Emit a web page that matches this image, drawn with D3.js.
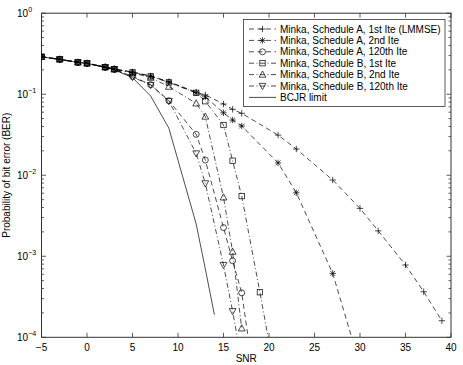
<!DOCTYPE html>
<html>
<head>
<meta charset="utf-8">
<script src="https://cdn.jsdelivr.net/npm/d3@7"></script>
<style>
  body { margin: 0; background: #fff; }
  text { font-family: "Liberation Sans", Arial, sans-serif; fill: #000; }
</style>
</head>
<body>
<div id="chart"></div>
<script>
// Define SVG area dimensions
const svgWidth = 463;
const svgHeight = 365;

// plot box (pixel edges of the axes)
const plot = { left: 41.5, right: 451, top: 13.2, bottom: 337.3 };

// ---- data ----
const snrA1 = [-5, -3, -1, 0, 2, 3, 5, 7, 9, 12, 13, 15, 16, 17, 21, 23, 27, 30, 32, 35, 37, 39];
const berA1 = [0.290, 0.270, 0.248, 0.241, 0.217, 0.205, 0.188, 0.168, 0.143, 0.106, 0.098, 0.0757, 0.0651, 0.0581, 0.0313, 0.0211, 0.00873, 0.0039, 0.00206, 7.8e-4, 3.65e-4, 1.6e-4];

const snrA2 = [-5, -3, -1, 0, 2, 3, 5, 7, 9, 12, 13, 15, 16, 17, 21, 23, 27, 30];
const berA2 = [0.290, 0.270, 0.248, 0.241, 0.216, 0.204, 0.187, 0.167, 0.141, 0.104, 0.093, 0.059, 0.048, 0.0405, 0.0142, 0.00608, 6.15e-4, 4.5e-5];

const snrA3 = [-5, -3, -1, 0, 2, 3, 5, 7, 9, 12, 13, 15, 16, 17, 19];
const berA3 = [0.289, 0.269, 0.247, 0.240, 0.215, 0.203, 0.166, 0.131, 0.083, 0.032, 0.0154, 0.00226, 8.8e-4, 3.54e-4, 1e-5];

const snrB1 = [-5, -3, -1, 0, 2, 3, 5, 7, 9, 12, 13, 15, 16, 17, 19, 21];
const berB1 = [0.290, 0.270, 0.248, 0.241, 0.216, 0.204, 0.186, 0.166, 0.140, 0.104, 0.082, 0.0417, 0.0151, 0.00553, 3.6e-4, 2.1e-5];

const snrB2 = [-5, -3, -1, 0, 2, 3, 5, 7, 9, 12, 13, 15, 16, 17];
const berB2 = [0.289, 0.269, 0.247, 0.240, 0.215, 0.203, 0.184, 0.160, 0.124, 0.077, 0.053, 0.00533, 0.00114, 1.29e-4];

const snrB3 = [-5, -3, -1, 0, 2, 3, 5, 7, 9, 12, 13, 15, 16, 17];
const berB3 = [0.289, 0.269, 0.247, 0.240, 0.215, 0.203, 0.163, 0.130, 0.0824, 0.0186, 0.00794, 7.8e-4, 2.1e-4, 5e-5];

const snrBcjr = [-5, -3, -1, 0, 2, 3, 5, 7, 9, 12, 13, 14];
const berBcjr = [0.289, 0.269, 0.247, 0.240, 0.214, 0.200, 0.160, 0.095, 0.038, 0.0025, 7e-4, 1.9e-4];

const legendLabels = [
  "Minka, Schedule A, 1st Ite (LMMSE)",
  "Minka, Schedule A, 2nd Ite",
  "Minka, Schedule A, 120th Ite",
  "Minka, Schedule B, 1st Ite",
  "Minka, Schedule B, 2nd Ite",
  "Minka, Schedule B, 120th Ite",
  "BCJR limit"
];
const xTicks = [-5, 0, 5, 10, 15, 20, 25, 30, 35, 40];
const yTicks = [1, 1e-1, 1e-2, 1e-3, 1e-4];
const yExponents = ["0", "\u22121", "\u22122", "\u22123", "\u22124"];

// series table built from the arrays above
const series = [
  { x: snrA1, y: berA1, marker: "plus", dash: "5,3.5" },
  { x: snrA2, y: berA2, marker: "star", dash: "5,3.5" },
  { x: snrA3, y: berA3, marker: "circle", dash: "5,3.5" },
  { x: snrB1, y: berB1, marker: "square", dash: "5,2.5,1,2.5" },
  { x: snrB2, y: berB2, marker: "triUp", dash: "5,2.5,1,2.5" },
  { x: snrB3, y: berB3, marker: "triDown", dash: "5,2.5,1,2.5" },
  { x: snrBcjr, y: berBcjr, marker: null, dash: null }
];

const svg = d3.select("#chart")
  .append("svg")
  .attr("width", svgWidth)
  .attr("height", svgHeight);

const xScale = d3.scaleLinear().domain([-5, 40]).range([plot.left, plot.right]);
const yScale = d3.scaleLog().domain([1e-4, 1]).range([plot.bottom, plot.top]);

svg.append("clipPath").attr("id", "clip")
  .append("rect")
  .attr("x", plot.left).attr("y", plot.top)
  .attr("width", plot.right - plot.left).attr("height", plot.bottom - plot.top);

const axisColor = "#333";

// ---- ticks (inside, on all four sides) ----
const tickG = svg.append("g").attr("stroke", axisColor).attr("stroke-width", 0.8);
xTicks.forEach(t => {
  const x = xScale(t);
  tickG.append("line").attr("x1", x).attr("x2", x).attr("y1", plot.bottom).attr("y2", plot.bottom - 4.5);
  tickG.append("line").attr("x1", x).attr("x2", x).attr("y1", plot.top).attr("y2", plot.top + 4.5);
});
for (let e = -4; e <= 0; e++) {
  const base = Math.pow(10, e);
  const yMaj = yScale(base);
  tickG.append("line").attr("x1", plot.left).attr("x2", plot.left + 4.5).attr("y1", yMaj).attr("y2", yMaj);
  tickG.append("line").attr("x1", plot.right).attr("x2", plot.right - 4.5).attr("y1", yMaj).attr("y2", yMaj);
  if (e < 0) {
    for (let m = 2; m <= 9; m++) {
      const y = yScale(base * m);
      tickG.append("line").attr("x1", plot.left).attr("x2", plot.left + 2.5).attr("y1", y).attr("y2", y);
      tickG.append("line").attr("x1", plot.right).attr("x2", plot.right - 2.5).attr("y1", y).attr("y2", y);
    }
  }
}

// axes box
svg.append("rect")
  .attr("x", plot.left).attr("y", plot.top)
  .attr("width", plot.right - plot.left).attr("height", plot.bottom - plot.top)
  .attr("fill", "none").attr("stroke", axisColor).attr("stroke-width", 1);

// x tick labels
svg.append("g").selectAll("text")
  .data(xTicks).enter().append("text")
  .attr("x", d => xScale(d))
  .attr("y", 351)
  .attr("text-anchor", "middle")
  .attr("font-size", 10)
  .text(d => d < 0 ? "\u2212" + Math.abs(d) : d);

// y tick labels 10^n
yTicks.forEach((t, i) => {
  const y = yScale(t);
  const lab = svg.append("text").attr("font-size", 10).attr("x", 17).attr("y", y + 4);
  lab.append("tspan").text("10");
  lab.append("tspan").attr("font-size", 7).attr("dy", -5).text(yExponents[i]);
});

// axis titles
svg.append("text")
  .attr("x", (plot.left + plot.right) / 2)
  .attr("y", 362)
  .attr("text-anchor", "middle")
  .attr("font-size", 10)
  .text("SNR");

svg.append("text")
  .attr("transform", `translate(10, ${(plot.top + plot.bottom) / 2}) rotate(-90)`)
  .attr("text-anchor", "middle")
  .attr("font-size", 10)
  .text("Probability of bit error (BER)");

// ---- markers ----
function drawMarker(g, type, cx, cy) {
  const s = 3.2;
  if (type === "plus") {
    g.append("path").attr("d", `M${cx - s},${cy}H${cx + s}M${cx},${cy - s}V${cy + s}`);
  } else if (type === "star") {
    const a = s * 0.75;
    g.append("path").attr("d",
      `M${cx - s},${cy}H${cx + s}M${cx},${cy - s}V${cy + s}` +
      `M${cx - a},${cy - a}L${cx + a},${cy + a}M${cx - a},${cy + a}L${cx + a},${cy - a}`);
  } else if (type === "circle") {
    g.append("circle").attr("cx", cx).attr("cy", cy).attr("r", 3);
  } else if (type === "square") {
    g.append("rect").attr("x", cx - 2.7).attr("y", cy - 2.7).attr("width", 5.4).attr("height", 5.4);
  } else if (type === "triUp") {
    g.append("path").attr("d", `M${cx},${cy - 3.6}L${cx + 3.4},${cy + 2.6}L${cx - 3.4},${cy + 2.6}Z`);
  } else if (type === "triDown") {
    g.append("path").attr("d", `M${cx},${cy + 3.6}L${cx + 3.4},${cy - 2.6}L${cx - 3.4},${cy - 2.6}Z`);
  }
}

const lineGen = d3.line()
  .x(d => xScale(d[0]))
  .y(d => yScale(d[1]));

const dataG = svg.append("g").attr("clip-path", "url(#clip)");

series.forEach(s => {
  const pts = s.x.map((v, i) => [v, s.y[i]]);
  dataG.append("path")
    .attr("d", lineGen(pts))
    .attr("fill", "none")
    .attr("stroke", "#000")
    .attr("stroke-width", 0.7)
    .attr("stroke-dasharray", s.dash);
  if (s.marker) {
    const mg = dataG.append("g").attr("fill", "none").attr("stroke", "#000").attr("stroke-width", 0.7);
    pts.forEach(p => {
      if (p[1] >= 1e-4) drawMarker(mg, s.marker, xScale(p[0]), yScale(p[1]));
    });
  }
});

// ---- legend ----
const legend = { left: 243.5, top: 19.5, right: 445, bottom: 106.5 };
svg.append("rect")
  .attr("x", legend.left).attr("y", legend.top)
  .attr("width", legend.right - legend.left).attr("height", legend.bottom - legend.top)
  .attr("fill", "#fff").attr("stroke", axisColor).attr("stroke-width", 0.8);

series.forEach((s, i) => {
  const y = 29 + i * 11.4;
  const g = svg.append("g");
  g.append("line")
    .attr("x1", 249).attr("x2", 276).attr("y1", y).attr("y2", y)
    .attr("stroke", "#000").attr("stroke-width", 0.7)
    .attr("stroke-dasharray", s.dash);
  if (s.marker) {
    const mg = g.append("g").attr("fill", "none").attr("stroke", "#000").attr("stroke-width", 0.7);
    drawMarker(mg, s.marker, 262.5, y);
  }
  g.append("text")
    .attr("x", 280).attr("y", y + 3.5)
    .attr("font-size", 10)
    .text(legendLabels[i]);
});
</script>
</body>
</html>
